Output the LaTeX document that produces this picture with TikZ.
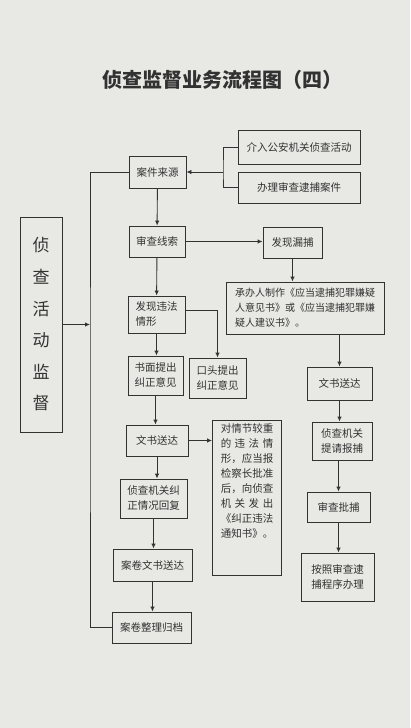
\documentclass[tikz,border=0pt]{standalone}
\usepackage{fontspec}
\setmainfont{Noto Sans CJK SC}
\usetikzlibrary{arrows.meta}
\definecolor{paper}{RGB}{232,232,228}
\definecolor{ink}{RGB}{50,50,50}

\begin{document}
\begin{tikzpicture}[x=1pt,y=-1pt,
    box/.style={draw=ink, line width=0.9pt, text=ink, inner sep=3pt, align=center,
      font=\fontsize{10.5}{15}\selectfont},
    link/.style={draw=ink, line width=0.9pt},
    arr/.style={link, -{Latex[length=5pt,width=4.5pt]}}]
    \fill[paper] (0,0) rectangle (410,728);
    \useasboundingbox (0,0) rectangle (410,728);

    \node[text=ink, font=\fontsize{20}{24}\selectfont\bfseries] (title) at (222,80)
      {侦查监督业务流程图（四）};

    % sources
    \node[box, minimum width=122, minimum height=34] (jieru) at (299,147)
      {介入公安机关侦查活动};
    \node[box, minimum width=122, minimum height=31] (banli) at (299,187.5)
      {办理审查逮捕案件};
    \node[box, minimum width=57, minimum height=32] (anjian) at (157.5,172)
      {案件来源};

    % left column
    \node[box, minimum width=42, minimum height=215, font=\fontsize{17}{31.6}\selectfont] (jiandu) at (41,324.5)
      {侦\\查\\活\\动\\监\\督};
    \node[box, minimum width=56, minimum height=31] (xiansuo) at (157,241.5)
      {审查线索};
    \node[box, minimum width=57, minimum height=37, align=left] (weifa) at (156.5,314.5)
      {发现违法\\情形};
    \node[box, minimum width=55, minimum height=39] (shumian) at (155.5,375.5)
      {书面提出\\纠正意见};
    \node[box, minimum width=57, minimum height=40] (koutou) at (217.5,378)
      {口头提出\\纠正意见};
    \node[box, minimum width=62, minimum height=31] (wenshuL) at (157,440.5)
      {文书送达};
    \node[box, minimum width=69, minimum height=155, inner sep=4pt] (duiqing) at (247,497.5)
      {\parbox[c][147pt][t]{5em}{对情节较重\\
        \makebox[5em][s]{的\hfill 违\hfill 法\hfill 情}\\
        形，应当报\\检察长批准\\后，向侦查\\
        \makebox[5em][s]{机\hfill 关\hfill 发\hfill 出}\\
        《纠正违法\\通知书》。}};
    \node[box, minimum width=67, minimum height=39] (huifu) at (153.5,498.5)
      {侦查机关纠\\正情况回复};
    \node[box, minimum width=79, minimum height=32] (songda) at (152.5,565)
      {案卷文书送达};
    \node[box, minimum width=79, minimum height=31] (guidang) at (151.5,627.5)
      {案卷整理归档};

    % right column
    \node[box, minimum width=59, minimum height=31] (loubu) at (292.5,242.5)
      {发现漏捕};
    \node[box, minimum width=158, minimum height=52, align=left, font=\fontsize{10}{15}\selectfont] (chengban) at (305,308)
      {承办人制作《应当逮捕犯罪嫌疑\\人意见书》或《应当逮捕犯罪嫌\\疑人建议书》。};
    \node[box, minimum width=65, minimum height=33] (wenshuR) at (339.5,383.5)
      {文书送达};
    \node[box, minimum width=60, minimum height=38] (baobu) at (342,441)
      {侦查机关\\提请报捕};
    \node[box, minimum width=63, minimum height=30] (pibu) at (338.5,507)
      {审查批捕};
    \node[box, minimum width=73, minimum height=48] (anzhao) at (337.5,577)
      {按照审查逮\\捕程序办理};

    \coordinate (brk) at (223,172);
    \coordinate (lp) at (90,400);

    \draw[link] (jieru.west) -| (brk) |- (banli.west);
    \draw[arr] (brk) -- (anjian.east);
    \draw[arr] (anjian) -- (xiansuo);
    \draw[arr] (xiansuo.east) -- (xiansuo.east -| loubu.west);
    \draw[arr] (xiansuo) -- (weifa);
    \draw[arr] (weifa) -- (weifa |- shumian.north);
    \draw[arr] ([yshift=4pt]weifa.east) -| (koutou.north);
    \draw[arr] (shumian) -- (shumian |- wenshuL.north);
    \draw[arr] (wenshuL.east) -- (wenshuL.east -| duiqing.west);
    \draw[arr] (wenshuL) -- (wenshuL |- huifu.north);
    \draw[arr] (huifu) -- (huifu |- songda.north);
    \draw[arr] (songda) -- (songda |- guidang.north);
    \draw[link] (anjian.west) -| (lp) |- (guidang.west);
    \draw[arr] (jiandu.east) -- (jiandu.east -| lp);

    \draw[arr] (loubu) -- (loubu |- chengban.north);
    \draw[arr] (chengban.south -| wenshuR) -- (wenshuR);
    \draw[arr] (wenshuR) -- (wenshuR |- baobu.north);
    \draw[arr] (baobu.south -| pibu) -- (pibu);
    \draw[arr] (pibu) -- (pibu |- anzhao.north);
\end{tikzpicture}
\end{document}
